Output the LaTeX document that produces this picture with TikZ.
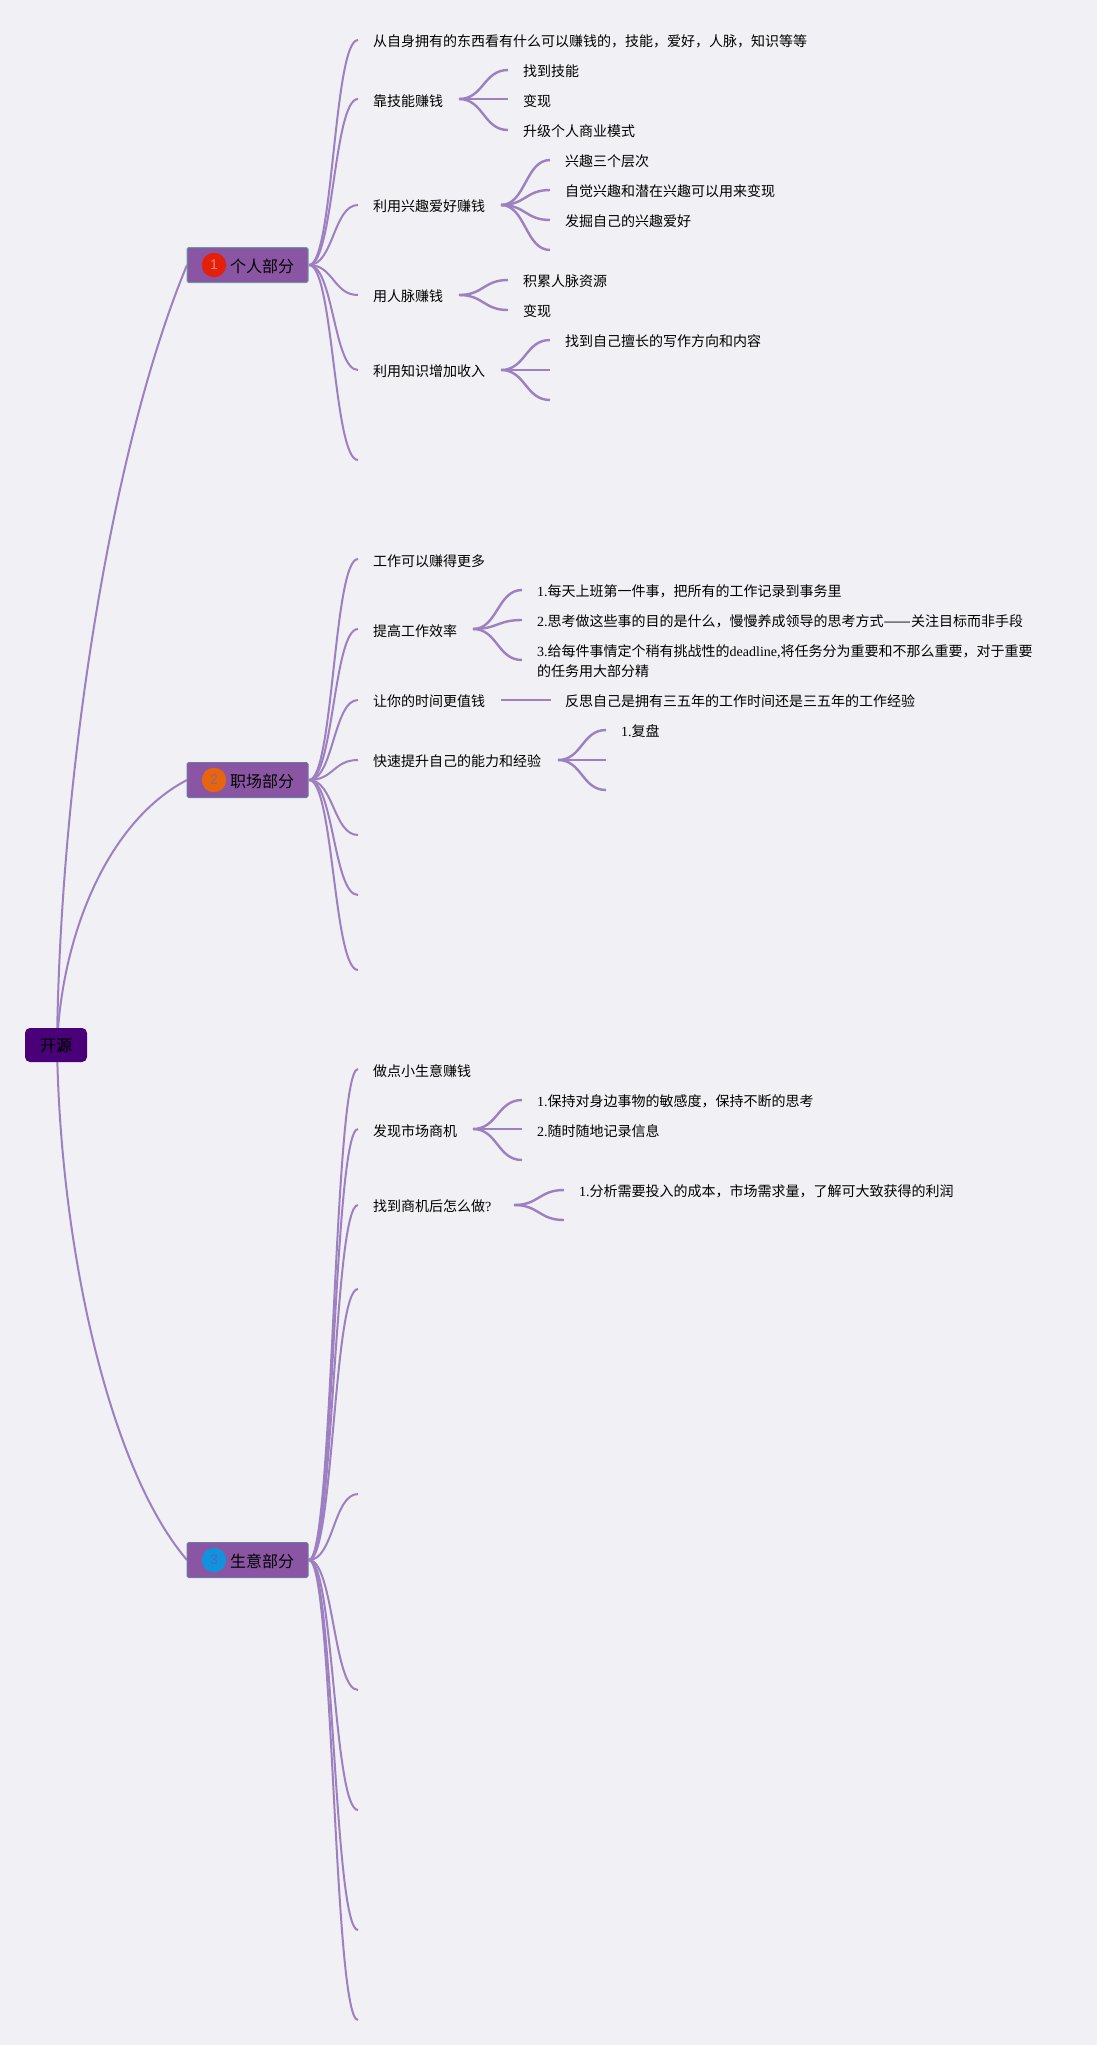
\documentclass[tikz,border=0pt]{standalone}
\usepackage{fontspec}
\setmainfont{Liberation Serif}
\setsansfont{Liberation Sans}
\newfontfamily\cjk{Noto Sans CJK SC}
\newfontfamily\cjkheavy[FakeBold=0.5]{Noto Sans CJK SC}
\definecolor{bgc}{HTML}{F1F0F4}
\definecolor{linkc}{HTML}{9D80C0}
\definecolor{rootc}{HTML}{4A0078}
\definecolor{topicc}{HTML}{8A55A2}
\definecolor{edgea}{HTML}{6A9A9E}
\definecolor{edgeb}{HTML}{6A7BA6}
\definecolor{redc}{HTML}{E5200A}
\definecolor{orangec}{HTML}{E8650F}
\definecolor{bluec}{HTML}{1292DC}
\definecolor{digita}{HTML}{F08A78}
\definecolor{digitb}{HTML}{9A6478}
\definecolor{digitc}{HTML}{4A68C0}
\newcommand{\cn}[1]{{\cjk #1}}
\tikzset{
 x=1pt,y=-1pt,
 rootbox/.style={draw=none,fill=rootc,rounded corners=5pt,minimum width=62pt,minimum height=34pt,inner sep=0pt,font=\fontsize{16}{16}\selectfont\cjkheavy,text=black},
 topicbox/.style={fill=topicc,line width=1pt,rounded corners=1.5pt,minimum width=121pt,minimum height=35pt,inner sep=0pt,anchor=center},
 topictext/.style={inner sep=0pt,anchor=west,font=\fontsize{16}{16}\selectfont\cjk,text=black},
 badge/.style={circle,minimum size=24.5pt,inner sep=0pt,font=\sffamily\fontsize{14}{14}\selectfont},
 item/.style={inner sep=0pt,anchor=west,font=\fontsize{14}{14}\selectfont,text=black},
 itemwide/.style={item,align=left,font=\fontsize{14}{20}\selectfont},
 bone/.style={draw=linkc,line width=2pt},
 limb/.style={draw=linkc,line width=2.4pt},
 trunk/.style={draw=linkc,line width=2pt}
}
\usetikzlibrary{calc}
% sigmoid from #2 to #3 in style #1
\newcommand{\sig}[3]{\draw[#1] (#2) .. controls ($(#2)!0.5!(#3|-#2)$) and ($(#2|-#3)!0.5!(#3)$) .. (#3);}
\begin{document}
\begin{tikzpicture}
\useasboundingbox[fill=bgc] (0,0) rectangle (1097,2045);
% anchors
\coordinate (rc) at (57,1045);
\coordinate (t1l) at (187,265); \coordinate (t1r) at (309,265);
\coordinate (t2l) at (187,780); \coordinate (t2r) at (309,780);
\coordinate (t3l) at (187,1560); \coordinate (t3r) at (309,1560);
% trunks
\draw[trunk] (rc) .. controls (60,780) and (110,450) .. (t1l);
\draw[trunk] (rc) .. controls (62,930) and (110,820) .. (t2l);
\draw[trunk] (rc) .. controls (60,1250) and (110,1470) .. (t3l);
% ends level 1
\foreach \n/\y in {a1/40,a2/99,a3/205,a4/295,a5/370,a6/460}{\coordinate (\n) at (358,\y); \sig{bone}{t1r}{\n}}
\foreach \n/\y in {b1/559,b2/629,b3/700,b4/760,b5/835,b6/895,b7/970}{\coordinate (\n) at (358,\y); \sig{bone}{t2r}{\n}}
\foreach \n/\y in {c1/1069,c2/1129,c3/1205,c4/1289,c5/1494,c6/1690,c7/1810,c8/1930,c9/2020}{\coordinate (\n) at (358,\y); \sig{bone}{t3r}{\n}}
% topic boxes
\node[rootbox] (root) at (56,1045) {\raisebox{-1pt}{开源}};
\node[topicbox,draw=edgea] (t1) at (247.5,265) {};
\node[topicbox,draw=edgeb] (t2) at (247.5,780) {};
\node[topicbox,draw=edgeb] (t3) at (247.5,1560) {};
\node[badge,fill=redc,text=digita] (n1) at (214,265) {1};
\node[badge,fill=orangec,text=digitb] (n2) at (214,780) {2};
\node[badge,fill=bluec,text=digitc] (n3) at (214,1560) {3};
\node[topictext] (t1t) at (230,266) {个人部分};
\node[topictext] (t2t) at (230,781) {职场部分};
\node[topictext] (t3t) at (230,1561) {生意部分};
% branch 1 text
\node[item] (ta1) at (373,41) {\cn{从自身拥有的东西看有什么可以赚钱的，技能，爱好，人脉，知识等等}};
\node[item] (ta2) at (373,101.5) {\cn{靠技能赚钱}};
\node[item] (ta3) at (373,206) {\cn{利用兴趣爱好赚钱}};
\node[item] (ta4) at (373,296) {\cn{用人脉赚钱}};
\node[item] (ta5) at (373,371) {\cn{利用知识增加收入}};
% 靠技能
\coordinate (s2) at (459,99);
\foreach \n/\y in {x1/70,x2/99,x3/130}{\coordinate (\n) at (508,\y); \sig{limb}{s2}{\n}}
\node[item] at (523,71) {\cn{找到技能}};
\node[item] at (523,101) {\cn{变现}};
\node[item] at (523,131) {\cn{升级个人商业模式}};
% 兴趣
\coordinate (s3) at (501,205);
\foreach \n/\y in {y1/160,y2/190,y3/220,y4/250}{\coordinate (\n) at (550,\y); \sig{limb}{s3}{\n}}
\node[item] at (565,161) {\cn{兴趣三个层次}};
\node[item] at (565,191) {\cn{自觉兴趣和潜在兴趣可以用来变现}};
\node[item] at (565,221) {\cn{发掘自己的兴趣爱好}};
% 人脉
\coordinate (s4) at (459,295);
\foreach \n/\y in {z1/280,z2/310}{\coordinate (\n) at (508,\y); \sig{limb}{s4}{\n}}
\node[item] at (523,281) {\cn{积累人脉资源}};
\node[item] at (523,311) {\cn{变现}};
% 知识
\coordinate (s5) at (501,370);
\foreach \n/\y in {w1/340,w2/370,w3/400}{\coordinate (\n) at (550,\y); \sig{limb}{s5}{\n}}
\node[item] at (565,341) {\cn{找到自己擅长的写作方向和内容}};
% branch 2 text
\node[item] (tb1) at (373,561) {\cn{工作可以赚得更多}};
\node[item] (tb2) at (373,631.5) {\cn{提高工作效率}};
\node[item] (tb3) at (373,701) {\cn{让你的时间更值钱}};
\node[item] (tb4) at (373,761) {\cn{快速提升自己的能力和经验}};
\coordinate (s6) at (473,629);
\foreach \n/\y in {p1/590,p2/620,p3/660}{\coordinate (\n) at (522,\y); \sig{limb}{s6}{\n}}
\node[item] at (537,591.5) {1.\cn{每天上班第一件事，把所有的工作记录到事务里}};
\node[item] at (537,621.5) {2.\cn{思考做这些事的目的是什么，慢慢养成领导的思考方式}\scalebox{1.167}[1]{\cn{——}}\cn{关注目标而非手段}};
\node[itemwide] at (537,661) {3.\cn{给每件事情定个稍有挑战性的}deadline,\cn{将任务分为重要和不那么重要，对于重要}\\\cn{的任务用大部分精}};
\coordinate (s7) at (500.5,700); \coordinate (q1) at (550.5,700);
\draw[limb] (s7) -- (q1);
\node[item] at (565,701) {\cn{反思自己是拥有三五年的工作时间还是三五年的工作经验}};
\coordinate (s8) at (558,760);
\foreach \n/\y in {r1/730,r2/760,r3/790}{\coordinate (\n) at (606,\y); \sig{limb}{s8}{\n}}
\node[item] at (621,731) {1.\cn{复盘}};
% branch 3 text
\node[item] (tc1) at (373,1071) {\cn{做点小生意赚钱}};
\node[item] (tc2) at (373,1131) {\cn{发现市场商机}};
\node[item] (tc3) at (373,1206) {\cn{找到商机后怎么做}?};
\coordinate (s9) at (473,1129);
\foreach \n/\y in {u1/1100,u2/1129,u3/1160}{\coordinate (\n) at (522,\y); \sig{limb}{s9}{\n}}
\node[item] at (537,1101) {1.\cn{保持对身边事物的敏感度，保持不断的思考}};
\node[item] at (537,1131) {2.\cn{随时随地记录信息}};
\coordinate (s10) at (514,1205);
\foreach \n/\y in {v1/1190,v2/1220}{\coordinate (\n) at (564,\y); \sig{limb}{s10}{\n}}
\node[item] at (579,1191) {1.\cn{分析需要投入的成本，市场需求量，了解可大致获得的利润}};
\end{tikzpicture}
\end{document}
